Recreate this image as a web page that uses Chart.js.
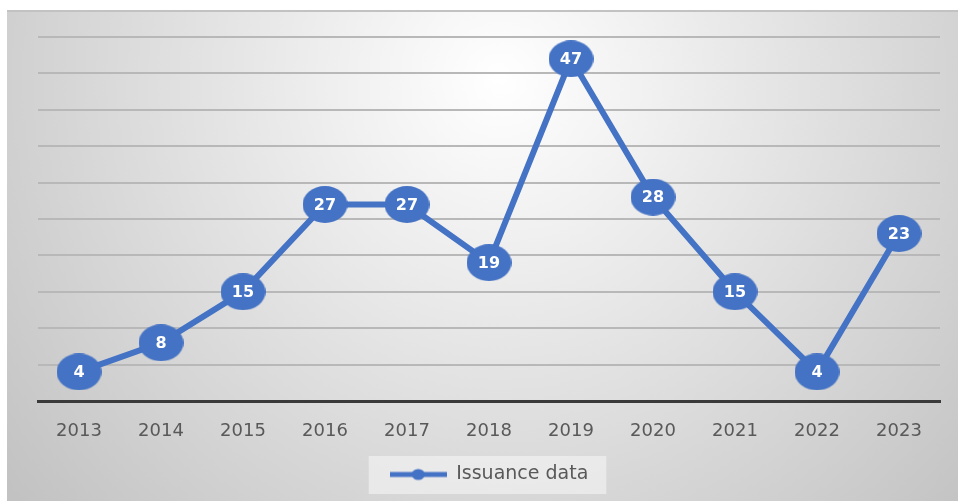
<!DOCTYPE html>
<html>
<head>
<meta charset="utf-8">
<script src="https://cdn.jsdelivr.net/npm/chart.js@4.4.1/dist/chart.umd.min.js"></script>
<style>
  html, body { margin: 0; padding: 0; background: #fff; }
  #wrap { width: 958px; height: 501px; position: relative; }
</style>
</head>
<body>
<div id="wrap"><canvas id="chart"></canvas></div>
<script>
// Dados do gráfico
var anos = ['2013', '2014', '2015', '2016', '2017', '2018', '2019', '2020', '2021', '2022', '2023'];
var emissoes = [4, 8, 15, 27, 27, 19, 47, 28, 15, 4, 23];
var nomeSerie = 'Issuance data';
var eixoY = { min: 0, max: 50, passo: 5 };

var azul = '#4472C4';

// Marcador elíptico dos pontos
function criarElipse(rx, ry) {
  var c = document.createElement('canvas');
  c.width = rx * 2;
  c.height = ry * 2;
  var g = c.getContext('2d');
  g.fillStyle = azul;
  g.beginPath();
  g.ellipse(rx, ry, rx, ry, 0, 0, Math.PI * 2);
  g.fill();
  return c;
}

// Marcador da legenda: linha com ponto no meio
function criarMarcadorLegenda() {
  var c = document.createElement('canvas');
  c.width = 57;
  c.height = 14;
  var g = c.getContext('2d');
  g.strokeStyle = azul;
  g.lineWidth = 5;
  g.beginPath();
  g.moveTo(0, 7);
  g.lineTo(57, 7);
  g.stroke();
  g.fillStyle = azul;
  g.beginPath();
  g.ellipse(28.5, 7, 6.5, 5.5, 0, 0, Math.PI * 2);
  g.fill();
  return c;
}

// Fundo com degradê radial e caixa clara da legenda
var fundo = {
  id: 'fundo',
  beforeDraw: function (chart) {
    var ctx = chart.ctx;
    var w = chart.width, h = chart.height;
    ctx.save();
    ctx.fillStyle = '#ffffff';
    ctx.fillRect(0, 0, w, h);
    var g = ctx.createRadialGradient(500, 80, 0, 500, 80, 640);
    g.addColorStop(0, '#ffffff');
    g.addColorStop(1, '#c2c2c2');
    ctx.fillStyle = g;
    ctx.fillRect(7, 10, w - 7, h - 10);
    ctx.strokeStyle = '#c2c2c2';
    ctx.lineWidth = 2;
    ctx.beginPath();
    ctx.moveTo(7, 11);
    ctx.lineTo(w, 11);
    ctx.stroke();

    var caixa = chart.legend && chart.legend.legendHitBoxes && chart.legend.legendHitBoxes[0];
    if (caixa) {
      ctx.fillStyle = 'rgba(245,245,245,0.6)';
      ctx.fillRect(caixa.left - 21, caixa.top - 9, caixa.width + 39, caixa.height + 19);
    }
    ctx.restore();
  }
};

// Valores escritos dentro dos pontos
var rotulos = {
  id: 'rotulos',
  afterDatasetsDraw: function (chart) {
    var ctx = chart.ctx;
    var meta = chart.getDatasetMeta(0);
    var valores = chart.data.datasets[0].data;
    ctx.save();
    ctx.font = 'bold 16px "DejaVu Sans"';
    ctx.fillStyle = '#ffffff';
    ctx.textAlign = 'center';
    ctx.textBaseline = 'middle';
    meta.data.forEach(function (ponto, i) {
      ctx.fillText(String(valores[i]), ponto.x, ponto.y + 1);
    });
    ctx.restore();
  }
};

var ctx = document.getElementById('chart').getContext('2d');

window.grafico = new Chart(ctx, {
  type: 'line',
  data: {
    labels: anos,
    datasets: [{
      label: nomeSerie,
      data: emissoes,
      borderColor: azul,
      backgroundColor: azul,
      borderWidth: 6,
      tension: 0,
      clip: false,
      pointStyle: criarElipse(22.5, 18.5),
      pointRadius: 20,
      pointHoverRadius: 20
    }]
  },
  options: {
    responsive: true,
    maintainAspectRatio: false,
    animation: false,
    events: [],
    layout: {
      autoPadding: false,
      padding: { left: 38, right: 18, top: 37, bottom: 7 }
    },
    scales: {
      x: {
        offset: true,
        grid: { display: false },
        border: { display: true, color: '#3a3a3a', width: 3 },
        ticks: {
          color: '#595959',
          font: { family: 'DejaVu Sans', size: 18 },
          padding: 12,
          maxRotation: 0,
          autoSkip: false
        },
        afterFit: function (scale) {
          scale.height = 54;
          // sem folga extra para os rótulos das pontas
          scale.paddingLeft = 0;
          scale.paddingRight = 0;
        }
      },
      y: {
        min: eixoY.min,
        max: eixoY.max,
        ticks: { display: false, stepSize: eixoY.passo },
        border: { display: false },
        grid: {
          drawTicks: false,
          lineWidth: 2,
          color: function (c) {
            return c.tick && c.tick.value === 0 ? 'rgba(0,0,0,0)' : '#b8b8b8';
          }
        }
      }
    },
    plugins: {
      legend: {
        position: 'bottom',
        labels: {
          usePointStyle: true,
          pointStyle: criarMarcadorLegenda(),
          pointStyleWidth: 57,
          color: '#595959',
          font: { family: 'DejaVu Sans', size: 19 },
          padding: 10
        }
      },
      tooltip: { enabled: false }
    }
  },
  plugins: [fundo, rotulos]
});
</script>
</body>
</html>
